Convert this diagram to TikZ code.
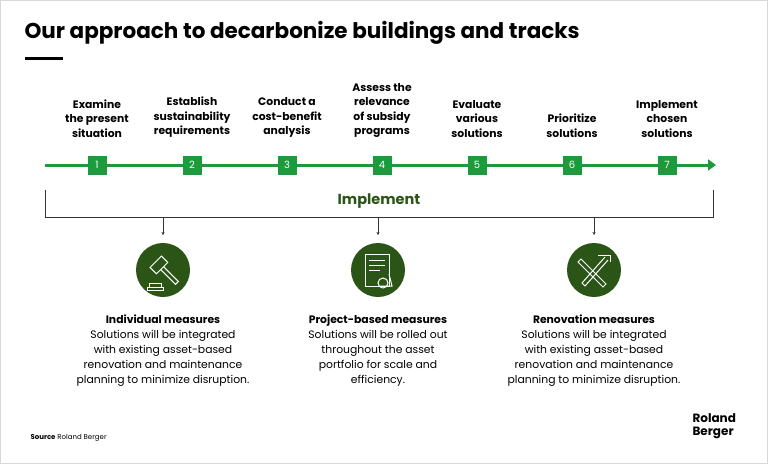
\documentclass[tikz,border=0pt]{standalone}
\usepackage{fontspec}
\setmainfont{Poppins}
\usetikzlibrary{positioning,arrows.meta}
\definecolor{rbgreen}{HTML}{1E9A3C}
\definecolor{rbdark}{HTML}{2A5516}
\tikzset{
    stepbox/.style={
      rectangle,
           fill=rbgreen,
           text=white,
           inner sep=0pt,
           minimum width=19pt,
           minimum height=19pt,
           font=\fontsize{10}{10}\selectfont,
           },
}
\tikzset{
    steplabel/.style={
      align=center,
           anchor=south,
           font=\fontsize{10.8}{14.5}\selectfont\bfseries,
           },
}
\tikzset{
    measure/.style={
      circle,
           fill=rbdark,
           minimum size=54pt,
           },
}
\tikzset{
    desc/.style={
      align=center,
           anchor=north,
           font=\fontsize{10.8}{15}\selectfont,
           },
}
\begin{document}
\begin{tikzpicture}[x=1pt,y=-1pt]
\useasboundingbox (0,0) rectangle (768,464);
\draw[gray!30] (0.5,0.5) rectangle (767.5,463.5);

\node[anchor=west,font=\fontsize{21.5}{22}\selectfont\bfseries] (title) at (21,33) {Our approach to decarbonize buildings and tracks};
\draw[line width=3pt] (25,58) -- (63,58);

% timeline
\coordinate (tl) at (45,165);
\coordinate (tr) at (716,165);
\draw[rbgreen,line width=3pt,-{Triangle[length=8pt,width=11pt]}] (tl) -- (tr);

\foreach \i/\t in {1/Examine\\the present\\situation,
                   2/Establish\\sustainability\\requirements,
                   3/Conduct a\\cost-benefit\\analysis,
                   4/Assess the\\relevance\\of subsidy\\programs,
                   5/Evaluate\\various\\solutions,
                   6/Prioritize\\solutions,
                   7/Implement\\chosen\\solutions}{
  \node[stepbox] (s\i) at ({2+95*\i},165) {\i};
  \node[steplabel] (l\i) at ({2+95*\i},141) {\t};
}

% bracket
\coordinate (bl) at (45,190);
\coordinate (br) at (713,190);
\draw[black!80] (bl) -- (45,217) -- (713,217) -- (br);
\node[font=\fontsize{14.5}{15}\selectfont\bfseries,text=rbdark] (imp) at (379,201) {Implement};

\node[measure] (m1) at (163,270) {};
\node[measure] (m2) at (378,270) {};
\node[measure] (m3) at (594,270) {};

\foreach \i in {1,2,3}{
  \coordinate (a\i) at (m\i |- 0,217);
  \draw[black!80,-{Stealth[length=3pt,width=3pt]}] (a\i) -- ++(0,18);
}

% icons
\begin{scope}[white,line width=1pt]
  \draw[rotate around={45:(160,266)}] (152,260) rectangle (168,269);
  \draw[rotate around={45:(160,266)}] (158,269) -- (158,290) -- (162,290) -- (162,269);
  \draw (149,283) rectangle (161,287);
  \draw (147,287) rectangle (163,290);
  \draw (365,254) rectangle (389,286);
  \draw (369,260) -- (385,260) (369,265) -- (385,265) (369,270) -- (380,270);
  \draw (383,283) circle (5pt);
  \draw (389,274) -- (392,286) -- (380,286);
  \draw (581,259) -- (606,284) -- (603,287) -- (578,262) -- cycle;
  \draw (605,257) -- (582,283) -- (585,286) -- (608,260);
  \draw (598,255) -- (610,255) -- (610,262);
\end{scope}

\node[desc] (d1) at (m1.south |- 0,311) {\textbf{Individual measures}\\Solutions will be integrated\\with existing asset-based\\renovation and maintenance\\planning to minimize disruption.};
\node[desc] (d2) at (m2.south |- 0,311) {\textbf{Project-based measures}\\Solutions will be rolled out\\throughout the asset\\portfolio for scale and\\efficiency.};
\node[desc] (d3) at (m3.south |- 0,311) {\textbf{Renovation measures}\\Solutions will be integrated\\with existing asset-based\\renovation and maintenance\\planning to minimize disruption.};

\node[anchor=west,font=\fontsize{7}{8}\selectfont] (src) at (27,438) {\textbf{Source} Roland Berger};
\node[anchor=north west,align=left,font=\fontsize{12}{13}\selectfont\bfseries] (logo) at (689,410) {Roland\\Berger};
\end{tikzpicture}
\end{document}
